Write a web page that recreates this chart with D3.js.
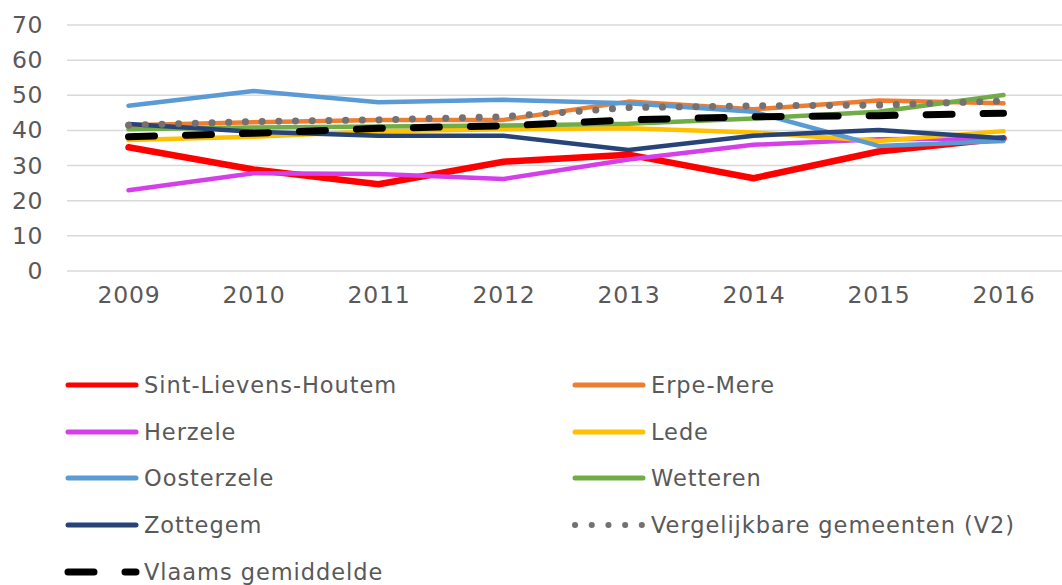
<!DOCTYPE html>
<html>
<head>
<meta charset="utf-8">
<script src="https://cdn.jsdelivr.net/npm/d3@7"></script>
<style>
  body { margin: 0; background: #fff; }
  svg { display: block; font-family: "DejaVu Sans", Verdana, sans-serif; }
</style>
</head>
<body>
<svg id="chart" width="1062" height="585"></svg>
<script>
const years = ['2009', '2010', '2011', '2012', '2013', '2014', '2015', '2016']
const yTicks = [0, 10, 20, 30, 40, 50, 60, 70]

const sintLievensHoutem = [35.2, 28.9, 24.7, 31.1, 33.1, 26.4, 34.0, 37.8]
const erpeMere = [41.5, 42.3, 43.0, 43.0, 48.2, 46.0, 48.5, 47.7]
const herzele = [23.0, 27.8, 27.6, 26.2, 31.7, 35.9, 37.5, 37.8]
const lede = [37.3, 38.2, 39.8, 40.3, 40.6, 39.4, 37.0, 39.8]
const oosterzele = [47.0, 51.2, 48.0, 48.7, 47.7, 45.3, 35.6, 37.0]
const wetteren = [40.3, 40.8, 41.1, 41.4, 41.9, 43.4, 45.3, 50.1]
const zottegem = [41.8, 39.6, 38.5, 38.5, 34.4, 38.5, 40.1, 37.8]
const vergelijkbaar = [41.5, 42.5, 43.0, 43.9, 46.5, 47.0, 47.2, 48.4]
const vlaamsGemiddelde = [38.2, 39.2, 40.6, 41.3, 43.0, 43.9, 44.2, 44.9]

const series = [
  { name: 'Sint-Lievens-Houtem', values: sintLievensHoutem, color: '#FF0000', width: 6.5 },
  { name: 'Erpe-Mere', values: erpeMere, color: '#ED7D31', width: 4.5 },
  { name: 'Herzele', values: herzele, color: '#D43FEA', width: 4.5 },
  { name: 'Lede', values: lede, color: '#FFC000', width: 4.5 },
  { name: 'Oosterzele', values: oosterzele, color: '#5B9BD5', width: 4.5 },
  { name: 'Wetteren', values: wetteren, color: '#70AD47', width: 4.5 },
  { name: 'Zottegem', values: zottegem, color: '#264478', width: 4.5 },
  { name: 'Vergelijkbare gemeenten (V2)', values: vergelijkbaar, color: '#767171', width: 7, legendWidth: 6, dash: '0.1,16.6' },
  { name: 'Vlaams gemiddelde', values: vlaamsGemiddelde, color: '#000000', width: 7, legendWidth: 7, dash: '26,31' }
]

const svg = d3.select('#chart')
const textColor = '#595959'

const x = d3.scalePoint().domain(years).range([128.5, 1003.5])
const y = d3.scaleLinear().domain([0, 70]).range([271, 25])

// gridlines
svg.append('g')
  .selectAll('line')
  .data(yTicks)
  .join('line')
    .attr('x1', 67)
    .attr('x2', 1062)
    .attr('y1', d => y(d))
    .attr('y2', d => y(d))
    .attr('stroke', '#D9D9D9')
    .attr('stroke-width', 1.5)

// y axis labels
const yAxis = svg.append('g')
  .attr('transform', 'translate(43,0)')
  .call(d3.axisLeft(y).tickValues(yTicks).tickSize(0).tickPadding(0))
yAxis.select('.domain').remove()
yAxis.selectAll('text')
  .attr('fill', textColor)
  .attr('font-size', 23.5)
  .attr('letter-spacing', 0.6)
  .attr('font-family', '"DejaVu Sans", Verdana, sans-serif')

// x axis labels
const xAxis = svg.append('g')
  .attr('transform', 'translate(0,286)')
  .call(d3.axisBottom(x).tickSize(0).tickPadding(0))
xAxis.select('.domain').remove()
xAxis.selectAll('text')
  .attr('fill', textColor)
  .attr('font-size', 23.5)
  .attr('letter-spacing', 0.8)
  .attr('font-family', '"DejaVu Sans", Verdana, sans-serif')

const line = d3.line()
  .x((d, i) => x(years[i]))
  .y(d => y(d))

svg.append('g')
  .selectAll('path')
  .data(series)
  .join('path')
    .attr('d', d => line(d.values))
    .attr('fill', 'none')
    .attr('stroke', d => d.color)
    .attr('stroke-width', d => d.width)
    .attr('stroke-linejoin', 'round')
    .attr('stroke-linecap', 'round')
    .attr('stroke-dasharray', d => d.dash || null)

// legend, two columns
const legend = svg.append('g')
const colX = [66, 573]
const rowY = [385, 432, 478, 525, 572]

const item = legend.selectAll('g')
  .data(series)
  .join('g')
    .attr('transform', (d, i) => `translate(${colX[i % 2]},${rowY[Math.floor(i / 2)]})`)

item.append('line')
  .attr('x1', 2)
  .attr('x2', 70)
  .attr('stroke', d => d.color)
  .attr('stroke-width', d => d.legendWidth || 5)
  .attr('stroke-linecap', 'round')
  .attr('stroke-dasharray', d => d.dash || null)

item.append('text')
  .attr('x', 78)
  .attr('dy', '0.35em')
  .attr('fill', textColor)
  .attr('font-size', 22.5)
  .attr('letter-spacing', 0.95)
  .text(d => d.name)
</script>
</body>
</html>
